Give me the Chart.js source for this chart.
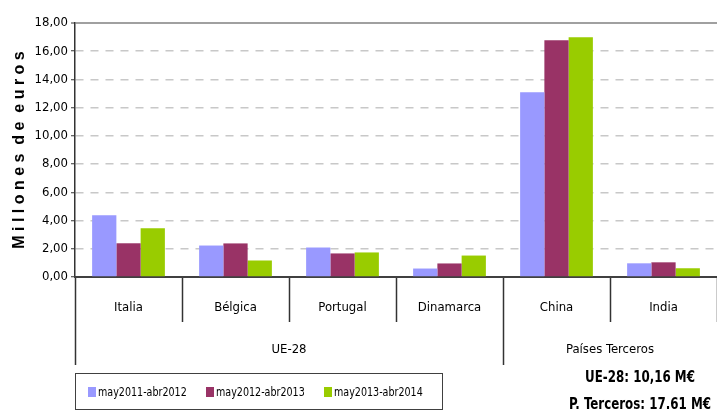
<!DOCTYPE html>
<html>
<head>
<meta charset="utf-8">
<script src="https://cdn.jsdelivr.net/npm/chart.js@4"></script>
<style>
  body { margin:0; background:#fff; }
  #wrap { position:relative; width:717px; height:414px; overflow:hidden; }
  #legend { position:absolute; left:75px; top:373px; width:354px; height:35px; border:1px solid #404040;
    display:flex; align-items:center; padding-left:12px; box-sizing:content-box;
    font:12.5px 'Liberation Sans Narrow','DejaVu Sans Condensed',sans-serif; color:#000; white-space:nowrap; }
  #legend .it { display:flex; align-items:center; width:121.5px; }
  #legend .sw { width:8px; height:10px; margin-right:2px; }
  #legend .tx { display:inline-block; transform:scaleX(0.85); transform-origin:0 50%; }
  #totals { position:absolute; left:540px; width:200px; top:364px; text-align:center;
    font:bold 15px 'Liberation Sans Narrow','DejaVu Sans Condensed',sans-serif; line-height:27px;
    color:#000; white-space:nowrap; transform:scaleX(0.88); transform-origin:100px 0; }
</style>
</head>
<body>
<div id="wrap">
  <canvas id="chart" width="717" height="414"></canvas>
  <div id="legend"></div>
  <div id="totals"><div>UE-28: 10,16 M€</div><div>P. Terceros: 17.61 M€</div></div>
</div>
<script>
const countries = ['Italia', 'Bélgica', 'Portugal', 'Dinamarca', 'China', 'India'];
const groups = [{ label:'UE-28', at:2 }, { label:'Países Terceros', at:5 }];
const groupEdges = [0, 4];
const periods = ['may2011-abr2012', 'may2012-abr2013', 'may2013-abr2014'];
const v2011 = [4.37, 2.23, 2.09, 0.60, 13.09, 0.97];
const v2012 = [2.39, 2.38, 1.67, 0.96, 16.78, 1.04];
const v2013 = [3.45, 1.17, 1.74, 1.52, 16.99, 0.62];
const colors = ['#9999ff', '#993366', '#99cc00'];
const yTicks = { min:0, max:18, step:2 };

const FONT = "'Liberation Sans Narrow','DejaVu Sans Condensed',sans-serif";
Chart.defaults.font.family = FONT;
Chart.defaults.color = '#000';

const isTop = c => !!(c && c.tick && c.tick.value === yTicks.max);
const isEdge = c => !!(c && c.tick && groupEdges.includes(c.tick.value));

const chart = new Chart(document.getElementById('chart'), {
  type: 'bar',
  data: {
    labels: countries,
    datasets: [v2011, v2012, v2013].map((d, i) => ({
      label: periods[i], data: d, backgroundColor: colors[i],
      barPercentage: 1, categoryPercentage: 0.68,
    })),
  },
  options: {
    responsive: false, animation: false,
    layout: { padding: { top:23, right:0, bottom:49, left:0 } },
    plugins: { legend: { display:false }, tooltip: { enabled:false } },
    scales: {
      y: {
        min: yTicks.min, max: yTicks.max,
        afterFit: s => { s.width = 75; },
        ticks: { stepSize: yTicks.step, padding: 3, font: { size:13 }, color:'#000',
          callback: v => v.toFixed(2).replace('.', ',') },
        grid: { color: c => isTop(c) ? '#a0a0a0' : '#c8c8c8',
          lineWidth: c => isTop(c) ? 2 : 1.5,
          tickLength: 4, tickColor: '#333', tickWidth: 1 },
        border: { color:'#333', width:1.5, dash: c => isTop(c) ? [] : [8, 7] },
        title: { display:true, text:'M i l l o n e s  d e  e u r o s',
          font:{ family:"'Liberation Sans',Arial,sans-serif", size:16, weight:'bold' }, color:'#000', padding:{ top:10, bottom:2 } },
      },
      x: {
        weight: 0,
        afterFit: s => { s.height = 45; },
        grid: { drawOnChartArea:false, tickLength:45, tickColor:'#333', tickWidth:1.5 },
        border: { color:'#404040', width:2 },
        ticks: { padding:-22, font:{ size:13 }, color:'#000', maxRotation:0 },
      },
      x2: {
        type: 'linear', position: 'bottom', weight: 1, min: 0, max: countries.length, offset: false,
        afterFit: s => { s.height = 43; },
        afterBuildTicks: s => { s.ticks = [0, ...groups.map(g => g.at), ...groupEdges, countries.length]
          .filter((v, i, a) => a.indexOf(v) === i).sort((a, b) => a - b).map(v => ({ value:v })); },
        ticks: { autoSkip:false, maxRotation:0, padding:-23, font:{ size:13 }, color:'#000',
          callback: v => (groups.find(g => g.at === v) || {}).label || '' },
        grid: { offset:false, drawOnChartArea:false, tickLength:43, tickWidth:1.5,
          tickColor: c => isEdge(c) ? '#333' : 'rgba(0,0,0,0)' },
        border: { display:false },
      },
    },
  },
});

document.getElementById('legend').innerHTML = chart.data.datasets.map(d =>
  `<div class="it"><div class="sw" style="background:${d.backgroundColor}"></div><span class="tx">${d.label}</span></div>`
).join('');
</script>
</body>
</html>
